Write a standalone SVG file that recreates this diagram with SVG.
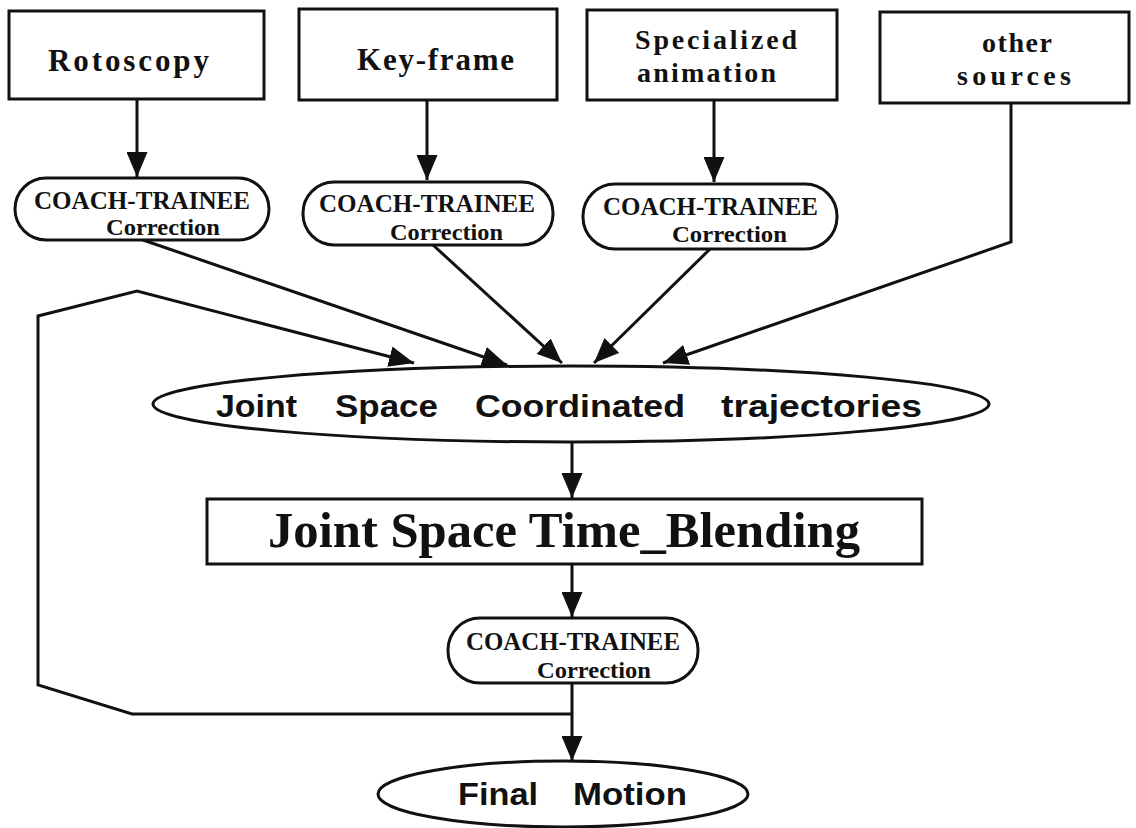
<svg xmlns="http://www.w3.org/2000/svg" width="1136" height="828" viewBox="0 0 1136 828">
  <style>
    .box { fill: #fff; stroke: #111; stroke-width: 3; }
    .wire { fill: none; stroke: #111; stroke-width: 3; stroke-linejoin: miter; }
    .serif { font-family: "Liberation Serif", "Times New Roman", serif; font-weight: bold; fill: #111; }
    .sans { font-family: "Liberation Sans", Arial, sans-serif; font-weight: bold; fill: #111; }
    .src { font-size: 31px; }
    .src2 { font-size: 28px; }
    .ct { font-size: 25px; }
    .corr { font-size: 23px; }
    .big { font-size: 31px; }
  </style>
  <defs>
    <marker id="arrow" markerUnits="userSpaceOnUse" viewBox="0 0 25 21" markerWidth="25" markerHeight="21" refX="25" refY="10.5" orient="auto">
      <path d="M0,0 L25,10.5 L0,21 z" fill="#111"/>
    </marker>
  </defs>
  <rect width="1136" height="828" fill="#fff"/>

  <!-- connectors -->
  <g id="connectors">
    <line class="wire" x1="137" y1="99" x2="137" y2="177" marker-end="url(#arrow)"/>
    <line class="wire" x1="427" y1="100" x2="427" y2="180" marker-end="url(#arrow)"/>
    <line class="wire" x1="714" y1="100" x2="714" y2="182" marker-end="url(#arrow)"/>
    <line class="wire" x1="143" y1="240" x2="507" y2="365" marker-end="url(#arrow)"/>
    <line class="wire" x1="433" y1="245" x2="562" y2="363" marker-end="url(#arrow)"/>
    <line class="wire" x1="710" y1="249" x2="594" y2="363" marker-end="url(#arrow)"/>
    <polyline class="wire" points="1011,103 1011,242 663,363" marker-end="url(#arrow)"/>
    <line class="wire" x1="572" y1="442" x2="572" y2="498" marker-end="url(#arrow)"/>
    <line class="wire" x1="572" y1="564" x2="572" y2="617" marker-end="url(#arrow)"/>
    <line class="wire" x1="572" y1="683" x2="572" y2="761" marker-end="url(#arrow)"/>
    <polyline class="wire" points="572,714 132,714 38,685 38,316 137,291 414,363" marker-end="url(#arrow)"/>
  </g>

  <!-- source boxes -->
  <g id="rotoscopy">
    <rect class="box" x="9" y="11" width="255" height="88"/>
    <text class="serif src" x="48" y="71" textLength="161" lengthAdjust="spacing">Rotoscopy</text>
  </g>
  <g id="keyframe">
    <rect class="box" x="299" y="9" width="258" height="91"/>
    <text class="serif src" x="357" y="70" textLength="157" lengthAdjust="spacing">Key-frame</text>
  </g>
  <g id="specialized">
    <rect class="box" x="587" y="10" width="250" height="90"/>
    <text class="serif src2" x="635" y="49" textLength="162" lengthAdjust="spacing">Specialized</text>
    <text class="serif src2" x="637" y="82" textLength="139" lengthAdjust="spacing">animation</text>
  </g>
  <g id="other">
    <rect class="box" x="880" y="12" width="249" height="91"/>
    <text class="serif src2" x="982" y="52" textLength="70" lengthAdjust="spacing">other</text>
    <text class="serif src2" x="957" y="85" textLength="114" lengthAdjust="spacing">sources</text>
  </g>

  <!-- correction stages -->
  <g id="correction1">
    <rect class="box" x="15" y="178" width="254" height="62" rx="31" ry="31"/>
    <text class="serif ct" x="34" y="209" textLength="216" lengthAdjust="spacingAndGlyphs">COACH-TRAINEE</text>
    <text class="serif corr" x="106" y="235" textLength="114" lengthAdjust="spacingAndGlyphs">Correction</text>
  </g>
  <g id="correction2">
    <rect class="box" x="303" y="182" width="250" height="63" rx="31" ry="31"/>
    <text class="serif ct" x="319" y="212" textLength="216" lengthAdjust="spacingAndGlyphs">COACH-TRAINEE</text>
    <text class="serif corr" x="390" y="240" textLength="113" lengthAdjust="spacingAndGlyphs">Correction</text>
  </g>
  <g id="correction3">
    <rect class="box" x="583" y="184" width="254" height="65" rx="32" ry="32"/>
    <text class="serif ct" x="603" y="215" textLength="215" lengthAdjust="spacingAndGlyphs">COACH-TRAINEE</text>
    <text class="serif corr" x="672" y="242" textLength="115" lengthAdjust="spacingAndGlyphs">Correction</text>
  </g>

  <!-- joint space trajectories -->
  <g id="trajectories">
    <ellipse class="box" cx="571" cy="404" rx="418" ry="38"/>
    <text class="sans big" x="216" y="417" textLength="81" lengthAdjust="spacingAndGlyphs">Joint</text>
    <text class="sans big" x="335" y="417" textLength="103" lengthAdjust="spacingAndGlyphs">Space</text>
    <text class="sans big" x="475" y="417" textLength="210" lengthAdjust="spacingAndGlyphs">Coordinated</text>
    <text class="sans big" x="721" y="417" textLength="201" lengthAdjust="spacingAndGlyphs">trajectories</text>
  </g>

  <!-- time blending -->
  <g id="blending">
    <rect class="box" x="207" y="499" width="715" height="65"/>
    <text class="serif" font-size="51" x="268" y="547" textLength="592" lengthAdjust="spacingAndGlyphs">Joint Space Time_Blending</text>
  </g>

  <!-- final correction -->
  <g id="correction4">
    <rect class="box" x="448" y="618" width="250" height="65" rx="32" ry="32"/>
    <text class="serif ct" x="466" y="650" textLength="214" lengthAdjust="spacingAndGlyphs">COACH-TRAINEE</text>
    <text class="serif corr" x="537" y="678" textLength="114" lengthAdjust="spacingAndGlyphs">Correction</text>
  </g>

  <!-- final motion -->
  <g id="final">
    <ellipse class="box" cx="563" cy="794" rx="185" ry="33"/>
    <text class="sans big" x="458" y="805" textLength="80" lengthAdjust="spacingAndGlyphs">Final</text>
    <text class="sans big" x="573" y="805" textLength="114" lengthAdjust="spacingAndGlyphs">Motion</text>
  </g>
</svg>
